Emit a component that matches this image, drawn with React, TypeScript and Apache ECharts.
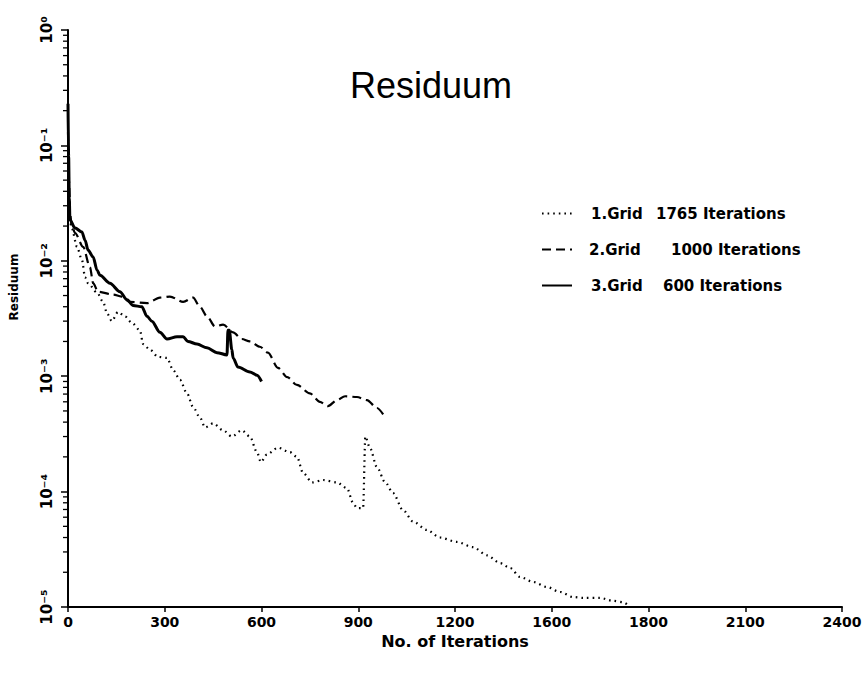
import React, { useEffect, useRef } from 'react';
import * as echarts from 'echarts';

// ---- data ----
const seriesNames = ['1.Grid', '2.Grid', '3.Grid'];
const legendIterations = ['1765 Iterations', '1000 Iterations', '600 Iterations'];

const xTickLabels = ['0', '300', '600', '900', '1200', '1600', '1800', '2100', '2400'];
const yTickExponents = [-5, -4, -3, -2, -1, 0];
const yTickLabels = ['10⁻⁵', '10⁻⁴', '10⁻³', '10⁻²', '10⁻¹', '10⁰'];
const minorMultipliers = [2, 3, 4, 5, 6, 7, 8, 9];

const grid1: [number, number][] = [
  [0, 0.1], [3, 0.04], [6, 0.022], [12, 0.019], [28, 0.0132], [43, 0.0102], [53, 0.0072],
  [62, 0.0064], [90, 0.0053], [109, 0.0044], [121, 0.0035], [136, 0.003], [155, 0.0036],
  [177, 0.0033], [198, 0.0029], [223, 0.0025], [233, 0.0019], [254, 0.0017], [279, 0.00147],
  [307, 0.00144], [326, 0.00113], [347, 0.00093], [369, 0.00071], [388, 0.00054], [409, 0.00044],
  [425, 0.00036], [450, 0.00039], [481, 0.00034], [508, 0.0003], [539, 0.00034], [564, 0.0003],
  [586, 0.00022], [598, 0.00018], [617, 0.00021], [651, 0.00024], [688, 0.00022], [710, 0.0002],
  [729, 0.000145], [757, 0.00012], [791, 0.000126], [834, 0.00012], [865, 0.000107],
  [884, 0.00008], [896, 0.000072], [915, 0.000072], [922, 0.0003], [936, 0.00024],
  [958, 0.000163], [983, 0.000121], [1008, 0.000097], [1039, 0.000069], [1070, 0.000055],
  [1113, 0.0000465], [1153, 0.00004], [1206, 0.0000366], [1256, 0.000033], [1300, 0.000028],
  [1340, 0.000024], [1371, 0.0000218], [1402, 0.0000182], [1442, 0.0000165], [1485, 0.0000149],
  [1526, 0.0000135], [1566, 0.0000122], [1597, 0.000012], [1650, 0.000012], [1690, 0.0000113],
  [1721, 0.000011], [1735, 0.0000105],
];

const grid2: [number, number][] = [
  [0, 0.13], [3, 0.05], [6, 0.026], [12, 0.02], [22, 0.0174], [47, 0.0132], [68, 0.0088],
  [78, 0.0064], [93, 0.0054], [140, 0.0051], [166, 0.0049], [192, 0.0044], [245, 0.0043],
  [285, 0.0048], [316, 0.0049], [357, 0.0044], [388, 0.0048], [409, 0.004], [431, 0.0033],
  [456, 0.0027], [481, 0.0028], [512, 0.0024], [539, 0.0021], [564, 0.002], [595, 0.0018],
  [620, 0.0016], [651, 0.00118], [680, 0.00098], [710, 0.00084], [750, 0.00071], [781, 0.0006],
  [806, 0.00055], [834, 0.00062], [859, 0.00067], [896, 0.00066], [927, 0.00062],
  [958, 0.00053], [983, 0.00044],
];

const grid3: [number, number][] = [
  [0, 0.23], [2, 0.08], [4, 0.035], [6, 0.0226], [22, 0.0192], [43, 0.0178], [53, 0.0151],
  [62, 0.0124], [78, 0.0108], [90, 0.0083], [99, 0.0075], [130, 0.0064], [161, 0.0054],
  [183, 0.0046], [202, 0.0041], [229, 0.004], [245, 0.0033], [260, 0.003], [285, 0.0024],
  [307, 0.0021], [338, 0.0022], [357, 0.0022], [372, 0.002], [400, 0.0019], [431, 0.00176],
  [462, 0.0016], [493, 0.00153], [496, 0.0025], [500, 0.0025], [508, 0.0017], [512, 0.00144],
  [527, 0.0012], [564, 0.00109], [586, 0.00102], [600, 0.0009],
];

const FONT = '"DejaVu Sans", "Liberation Sans", sans-serif';

export default function App() {
  const ref = useRef<HTMLDivElement>(null);

  useEffect(() => {
    if (!ref.current) return;
    const chart = echarts.init(ref.current, undefined, { renderer: 'svg' });

    const minorTicks: [number, number][] = [];
    yTickExponents.slice(0, -1).forEach((e) => {
      minorMultipliers.forEach((m) => minorTicks.push([0, m * Math.pow(10, e)]));
    });

    const labelStyle = { fontFamily: FONT, fontSize: 15, fontWeight: 'bold', color: '#000' };

    chart.setOption({
      animation: false,
      backgroundColor: '#ffffff',
      title: {
        text: 'Residuum',
        left: 345,
        top: 62,
        textStyle: { fontFamily: '"Liberation Sans", Arial, sans-serif', fontSize: 36, fontWeight: 'normal', color: '#000' },
      },
      grid: { left: 68, right: 26, top: 30, bottom: 66 },
      legend: {
        data: seriesNames,
        orient: 'vertical',
        left: 536,
        top: 201,
        itemWidth: 30,
        itemHeight: 14,
        itemGap: 21,
        itemStyle: { opacity: 0 },
        formatter: (name: string) => {
          const i = seriesNames.indexOf(name);
          return `{a${i}|${name}}{b|${legendIterations[i]}}`;
        },
        textStyle: {
          ...labelStyle,
          rich: {
            a0: { ...labelStyle, width: 65, padding: [0, 0, 0, 14] },
            a1: { ...labelStyle, width: 82, padding: [0, 0, 0, 12] },
            a2: { ...labelStyle, width: 72, padding: [0, 0, 0, 14] },
            b: { ...labelStyle },
          },
        },
      },
      xAxis: {
        type: 'value',
        min: 0,
        max: 2400,
        interval: 300,
        name: 'No. of Iterations',
        nameLocation: 'middle',
        nameGap: 25,
        nameTextStyle: { fontFamily: FONT, fontSize: 16, fontWeight: 'bold', color: '#000' },
        axisLine: { show: true, lineStyle: { color: '#000', width: 2 } },
        axisTick: { show: true, length: 5, inside: false, lineStyle: { color: '#000', width: 1.5 } },
        axisLabel: {
          margin: 8,
          fontFamily: FONT,
          fontSize: 14,
          fontWeight: 'bold',
          color: '#000',
          formatter: (v: number) => {
            const idx = Math.round(v / 300);
            return xTickLabels[idx] ?? '';
          },
        },
        splitLine: { show: false },
      },
      yAxis: {
        type: 'log',
        logBase: 10,
        min: 1e-5,
        max: 1,
        splitNumber: 5,
        axisLine: { show: true, lineStyle: { color: '#000', width: 2 } },
        axisTick: { show: true, length: 7, inside: false, lineStyle: { color: '#000', width: 1.5 } },
        axisLabel: {
          rotate: 90,
          margin: 14,
          fontFamily: FONT,
          fontSize: 15,
          fontWeight: 'bold',
          color: '#000',
          formatter: (v: number) => {
            const e = Math.round(Math.log10(v));
            const idx = yTickExponents.indexOf(e);
            return idx >= 0 ? yTickLabels[idx] : '';
          },
        },
        splitLine: { show: false },
      },
      graphic: [
        {
          type: 'text',
          x: 14,
          y: 287,
          rotation: Math.PI / 2,
          style: {
            text: 'Residuum',
            fill: '#000',
            font: `bold 12px ${FONT}`,
            textAlign: 'center',
            textVerticalAlign: 'middle',
          },
        },
      ],
      series: [
        {
          name: seriesNames[0],
          type: 'line',
          data: grid1,
          symbol: 'none',
          showSymbol: false,
          smooth: 0.3,
          smoothMonotone: 'x',
          lineStyle: { color: '#000', width: 2.2, type: [1.6, 4] },
          itemStyle: { color: '#000' },
        },
        {
          name: seriesNames[1],
          type: 'line',
          data: grid2,
          symbol: 'none',
          showSymbol: false,
          smooth: 0.3,
          smoothMonotone: 'x',
          lineStyle: { color: '#000', width: 2.2, type: [9, 5] },
          itemStyle: { color: '#000' },
        },
        {
          name: seriesNames[2],
          type: 'line',
          data: grid3,
          symbol: 'none',
          showSymbol: false,
          smooth: 0.3,
          smoothMonotone: 'x',
          lineStyle: { color: '#000', width: 3 },
          itemStyle: { color: '#000' },
        },
        {
          name: 'minorTicks',
          type: 'custom',
          silent: true,
          clip: false,
          data: minorTicks,
          renderItem: (_params: any, api: any) => {
            const p = api.coord([api.value(0), api.value(1)]);
            return {
              type: 'line',
              shape: { x1: p[0] - 5, y1: p[1], x2: p[0], y2: p[1] },
              style: { stroke: '#000', lineWidth: 1.3 },
            };
          },
        },
      ],
    });

    return () => chart.dispose();
  }, []);

  return (
    <div
      ref={ref}
      style={{ position: 'absolute', left: 0, top: 0, width: 868, height: 673, background: '#fff' }}
    />
  );
}
